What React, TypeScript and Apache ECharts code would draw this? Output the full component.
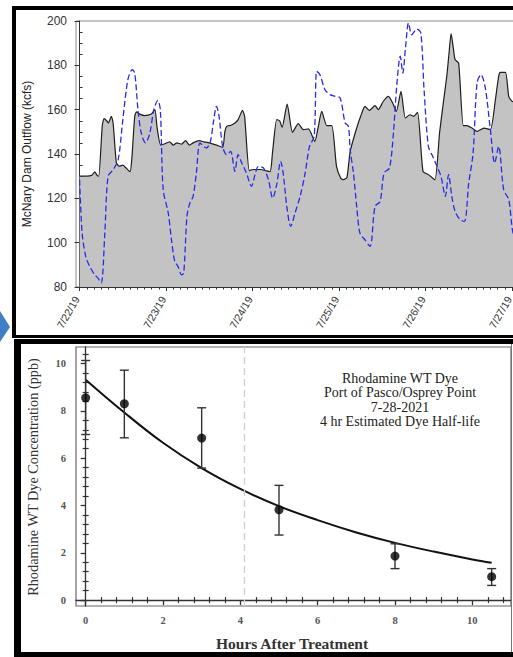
import React, { useEffect, useRef } from "react";
import * as echarts from "echarts";

// ---------- Top chart: McNary Dam outflow (hours since 7/22/19 00:00) ----------
const outflowHours = [0, 2, 3.5, 4.2, 4.8, 5.3, 6.3, 6.8, 7.5, 8, 8.8, 9.3, 10.2, 11, 12, 13, 14, 14.5, 15.3, 15.8, 16.7, 18, 19.9, 20.9, 21.5, 22.5, 23.5, 25, 26, 27, 28.3, 29.4, 30.5, 31.5, 33.2, 34.5, 36, 38, 39.7, 40.3, 40.8, 42, 43.1, 44, 45.2, 45.8, 47.1, 48.2, 50, 52.8, 53.5, 54.7, 55.5, 56.2, 57.6, 59.1, 60.7, 62.1, 63.5, 65.3, 66.2, 67.2, 68.6, 70, 71.3, 72.5, 73.2, 74.2, 75.1, 76.9, 78, 79.2, 80.4, 82, 82.9, 84.3, 85.7, 86.9, 87.9, 89.2, 90.4, 91.7, 92.7, 93.8, 95.3, 96.8, 98.6, 99.9, 101, 101.9, 102.5, 103.1, 103.7, 104.2, 105.2, 106.5, 107.5, 108.9, 110.3, 112.2, 114, 115.4, 116.3, 116.8, 118.2, 119.1, 120, 122, 125];
const outflowKcfs = [130, 130, 130.5, 132, 130.5, 130, 153, 156, 155, 154, 157, 154, 136, 134.5, 135, 133.5, 132, 138, 157, 159, 158, 157.3, 158, 160, 152, 144, 144.5, 145.5, 144, 145, 144.5, 146, 144, 145, 146, 145.5, 145, 144, 143, 150, 152.5, 153, 154, 155.5, 159.7, 157, 132.5, 133, 133, 132, 140, 155.5, 155, 152, 162.5, 149.8, 153.7, 151, 151.3, 145.7, 152, 159.2, 152.8, 152.8, 134.4, 129, 128.4, 129.5, 141.2, 151.7, 157, 161.5, 159.7, 161.8, 160, 163.8, 166, 163, 159.2, 168.3, 156.2, 157.7, 157, 158.8, 132.2, 130.7, 128.4, 149.5, 163.8, 175, 185, 194.3, 188, 182.6, 181, 152.8, 152.8, 151.7, 150.2, 151.7, 151, 164.5, 175, 176.8, 176.8, 166, 163.8, 163, 162];

const dashedHours = [0, 0.7, 1.7, 2.8, 4.2, 5.1, 6, 7, 7.9, 9.3, 10.7, 12, 13.4, 14.6, 15.3, 16.2, 17.1, 18.3, 19.5, 20.6, 21.7, 22.4, 23.2, 24.6, 25.5, 26.4, 27.3, 28.3, 28.9, 29.8, 30.6, 31.5, 32.4, 33.4, 34.5, 35.2, 36.3, 37.1, 38, 38.7, 39.7, 40.8, 41.9, 43.1, 44, 45, 46.3, 47.7, 48.7, 49.6, 51, 52.4, 53.6, 54.7, 55.8, 56.5, 57.5, 58.6, 59.8, 61.2, 62.6, 63.8, 65.1, 65.8, 66.7, 68.1, 69.5, 70.9, 72.3, 73.7, 74.6, 75.1, 76, 76.9, 77.8, 79.2, 80.6, 82, 83.4, 84.5, 86, 87.1, 88, 89, 89.7, 90.4, 91.3, 92.2, 93.6, 94.7, 95.6, 96.8, 98, 99.2, 100.3, 101.5, 102.4, 103.3, 104.2, 105.6, 106.8, 108, 109.2, 110.3, 111.4, 112.6, 114, 115.2, 116.3, 117.7, 119.1, 120.3, 122, 125];
const dashedKcfs = [128.4, 104.3, 93.8, 89.3, 85.5, 84, 81.8, 104.3, 129.9, 132.9, 137.4, 155.5, 173.5, 178, 176.5, 160, 149.5, 145, 149.5, 160, 164.2, 160, 123.9, 113.4, 101.3, 91.6, 89.3, 85.5, 86.3, 111.9, 117.9, 120.9, 131.4, 145, 143.4, 142.7, 145.7, 154, 161.5, 157, 143.4, 139.7, 141.2, 132.2, 139.7, 135.9, 131.4, 125.4, 130.7, 134.4, 133.7, 128.4, 120.1, 126.2, 136.7, 131.4, 116.4, 107.4, 113.4, 120.9, 131.4, 143.4, 148, 177.3, 175.8, 169, 166.8, 166, 165.3, 154, 152.5, 141.9, 131.4, 116.4, 104.3, 101.3, 98.3, 116.4, 118.6, 131.4, 133.7, 149.5, 170.5, 184.1, 176.5, 187.1, 199.1, 193.8, 196.4, 194.6, 169, 143.4, 138.9, 134.4, 129.9, 120.9, 130.7, 120.9, 114.1, 110.4, 109.6, 126.9, 140.4, 172, 175.8, 169.8, 151, 135.9, 143.4, 123.9, 119.4, 104.3, 98, 95];

const dateTickHours = [0, 24, 48, 72, 96, 120];
const dateTickLabels = ["7/22/19", "7/23/19", "7/24/19", "7/25/19", "7/26/19", "7/27/19"];
const outflowTitle = "McNary Dam Outflow (kcfs)";

// ---------- Bottom chart: Rhodamine WT dye ----------
const sampleHours = [0, 1, 3, 5, 8, 10.5];
const dyeMean = [8.55, 8.3, 6.85, 3.82, 1.86, 0.99];
const dyeLow = [7.0, 6.86, 5.58, 2.75, 1.33, 0.62];
const dyeHigh = [10.13, 9.72, 8.13, 4.85, 2.38, 1.33];
const fitHours = [0, 1, 2, 3, 4, 5, 6, 7, 8, 9, 10, 10.5];
const fitPpb = [9.32, 7.93, 6.65, 5.58, 4.7, 3.97, 3.38, 2.86, 2.42, 2.05, 1.72, 1.58];
const halfLifeHour = 4.1;
const hourTicks = [0, 2, 4, 6, 8, 10];
const ppbTicks = [0, 2, 4, 6, 8, 10];
const annotationLines = ["Rhodamine WT Dye", "Port of Pasco/Osprey Point", "7-28-2021", "4 hr Estimated Dye Half-life"];
const dyeYTitle = "Rhodamine WT Dye Concentration (ppb)";
const dyeXTitle = "Hours After Treatment";

const SANS = "'Liberation Sans', Arial, sans-serif";
const SERIF = "'Liberation Serif', 'Times New Roman', serif";

function range(start: number, end: number, step: number, skipEvery?: number) {
  const out: number[] = [];
  for (let i = 0; start + i * step <= end + 1e-9; i++) {
    const v = Math.round((start + i * step) * 1000) / 1000;
    if (skipEvery && Math.abs(v / skipEvery - Math.round(v / skipEvery)) < 1e-6) continue;
    out.push(v);
  }
  return out;
}

export default function App() {
  const ref = useRef<HTMLDivElement>(null);

  useEffect(() => {
    if (!ref.current) return;
    const chart = echarts.init(ref.current, undefined, { renderer: "svg" });

    const hourMinor = range(2, 124, 2, 24);
    const kcfsMinor = range(85, 195, 5, 20);
    const xMinor = range(0.4, 10.8, 0.4, 2);
    const yMinor = range(0.4, 10.4, 0.4, 2);

    const noLine = { show: false };
    const noLabel = { show: false };
    const noSplit = { show: false };

    const option: any = {
      animation: false,
      backgroundColor: "#ffffff",
      grid: [
        { left: 76, top: 21, width: 454, height: 266, show: true, borderColor: "#8a8a8a", borderWidth: 1 },
        { left: 76, top: 347, width: 435, height: 259, show: true, borderColor: "#666", borderWidth: 1.2 },
      ],
      xAxis: [
        {
          type: "value", gridIndex: 0, min: -1, max: 125, position: "bottom",
          axisLine: { show: true, lineStyle: { color: "#333", width: 1 } },
          axisTick: { show: true, customValues: dateTickHours, length: 4, lineStyle: { color: "#333" } },
          axisLabel: {
            customValues: dateTickHours,
            formatter: (v: number) => dateTickLabels[dateTickHours.indexOf(Math.round(v))] ?? "",
            rotate: 60, fontSize: 10.5, color: "#333", fontFamily: SANS, margin: 6, padding: [0, 5, 0, 0],
          },
          splitLine: noSplit,
        },
        {
          type: "value", gridIndex: 0, min: -1, max: 125, position: "bottom",
          axisLine: noLine, axisLabel: noLabel, splitLine: noSplit,
          axisTick: { show: true, customValues: hourMinor, length: 2.5, lineStyle: { color: "#333" } },
        },
        {
          type: "value", gridIndex: 1, min: -0.25, max: 11, position: "bottom",
          axisLine: { show: true, lineStyle: { color: "#333", width: 1.3 } },
          axisTick: { show: true, customValues: hourTicks, length: 5, lineStyle: { color: "#333", width: 1.3 } },
          axisLabel: { customValues: hourTicks, fontSize: 10.5, fontWeight: "bold", color: "#555", fontFamily: SERIF, margin: 9 },
          splitLine: noSplit,
        },
        {
          type: "value", gridIndex: 1, min: -0.25, max: 11, position: "bottom",
          axisLine: noLine, axisLabel: noLabel, splitLine: noSplit,
          axisTick: { show: true, customValues: xMinor, length: 3, lineStyle: { color: "#333", width: 1.2 } },
        },
        {
          type: "value", gridIndex: 1, min: -0.25, max: 11, position: "bottom",
          axisLine: noLine, axisLabel: noLabel, splitLine: noSplit,
          axisTick: { show: true, inside: true, customValues: xMinor, length: 3, lineStyle: { color: "#333", width: 1.2 } },
        },
      ],
      yAxis: [
        {
          type: "value", gridIndex: 0, min: 80, max: 200, interval: 20, position: "left",
          axisLine: { show: true, lineStyle: { color: "#333", width: 1 } },
          axisTick: { show: true, length: 5, lineStyle: { color: "#333" } },
          axisLabel: { fontSize: 12, color: "#333", fontFamily: SANS, margin: 9 },
          splitLine: noSplit,
        },
        {
          type: "value", gridIndex: 0, min: 80, max: 200, position: "left",
          axisLine: noLine, axisLabel: noLabel, splitLine: noSplit,
          axisTick: { show: true, inside: true, customValues: kcfsMinor, length: 3, lineStyle: { color: "#333" } },
        },
        {
          type: "value", gridIndex: 1, min: -0.25, max: 10.7, position: "left",
          axisLine: { show: true, lineStyle: { color: "#333", width: 1.3 } },
          axisTick: { show: true, customValues: ppbTicks, length: 5, lineStyle: { color: "#333", width: 1.3 } },
          axisLabel: { customValues: ppbTicks, fontSize: 10.5, fontWeight: "bold", color: "#555", fontFamily: SERIF, margin: 10 },
          splitLine: noSplit,
        },
        {
          type: "value", gridIndex: 1, min: -0.25, max: 10.7, position: "left",
          axisLine: noLine, axisLabel: noLabel, splitLine: noSplit,
          axisTick: { show: true, customValues: yMinor, length: 3, lineStyle: { color: "#333", width: 1.2 } },
        },
        {
          type: "value", gridIndex: 1, min: -0.25, max: 10.7, position: "left",
          axisLine: noLine, axisLabel: noLabel, splitLine: noSplit,
          axisTick: { show: true, inside: true, customValues: yMinor, length: 3, lineStyle: { color: "#333", width: 1.2 } },
        },
      ],
      series: [
        {
          name: "McNary outflow", type: "line", xAxisIndex: 0, yAxisIndex: 0,
          data: outflowHours.map((h, i) => [h, outflowKcfs[i]]),
          showSymbol: false, smooth: 0.2,
          lineStyle: { color: "#1e1e1e", width: 1.2 },
          areaStyle: { color: "#c3c3c3", opacity: 1 },
          z: 2,
        },
        {
          name: "comparison", type: "line", xAxisIndex: 0, yAxisIndex: 0,
          data: dashedHours.map((h, i) => [h, dashedKcfs[i]]),
          showSymbol: false, smooth: 0.3,
          lineStyle: { color: "#2a2aee", width: 1.3, type: [6, 3] },
          z: 3,
        },
        {
          name: "fit", type: "line", xAxisIndex: 2, yAxisIndex: 2,
          data: fitHours.map((h, i) => [h, fitPpb[i]]),
          showSymbol: false, smooth: 0.4,
          lineStyle: { color: "#111", width: 2 },
          markLine: {
            silent: true, symbol: ["none", "none"], label: { show: false },
            lineStyle: { color: "#cfcfcf", type: [7, 4], width: 1.3 },
            data: [{ xAxis: halfLifeHour }],
          },
          z: 3,
        },
        {
          name: "error", type: "custom", xAxisIndex: 2, yAxisIndex: 2,
          data: sampleHours.map((h, i) => [h, dyeLow[i], dyeHigh[i]]),
          encode: { x: 0, y: [1, 2] },
          renderItem: (_params: any, api: any) => {
            const x = api.value(0);
            const lo = api.coord([x, api.value(1)]);
            const hi = api.coord([x, api.value(2)]);
            const w = 4.5;
            const st = { stroke: "#333", lineWidth: 1.4 };
            return {
              type: "group",
              children: [
                { type: "line", shape: { x1: lo[0], y1: lo[1], x2: hi[0], y2: hi[1] }, style: st },
                { type: "line", shape: { x1: lo[0] - w, y1: lo[1], x2: lo[0] + w, y2: lo[1] }, style: st },
                { type: "line", shape: { x1: hi[0] - w, y1: hi[1], x2: hi[0] + w, y2: hi[1] }, style: st },
              ],
            };
          },
          z: 4,
        },
        {
          name: "dye", type: "scatter", xAxisIndex: 2, yAxisIndex: 2,
          data: sampleHours.map((h, i) => [h, dyeMean[i]]),
          symbolSize: 9, itemStyle: { color: "#000" },
          z: 5,
        },
      ],
      graphic: [
        { type: "polygon", shape: { points: [[0, 311], [10, 327], [0, 342]] }, style: { fill: "#3f7fc6" }, z: 10 },
        { type: "rect", shape: { x: 12, y: 6, width: 700, height: 4 }, style: { fill: "#000" }, z: 10 },
        { type: "rect", shape: { x: 12, y: 6, width: 4, height: 332 }, style: { fill: "#000" }, z: 10 },
        { type: "rect", shape: { x: 12, y: 335, width: 700, height: 3 }, style: { fill: "#000" }, z: 10 },
        { type: "rect", shape: { x: 14, y: 339, width: 700, height: 5 }, style: { fill: "#000" }, z: 10 },
        { type: "rect", shape: { x: 14, y: 339, width: 7, height: 318 }, style: { fill: "#000" }, z: 10 },
        { type: "rect", shape: { x: 14, y: 652, width: 700, height: 5 }, style: { fill: "#000" }, z: 10 },
        { type: "line", shape: { x1: 511.5, y1: 344, x2: 511.5, y2: 652 }, style: { stroke: "#777", lineWidth: 1 }, z: 10 },
        {
          type: "text", x: 27, y: 154, rotation: Math.PI / 2,
          style: { text: outflowTitle, fontSize: 12, fontFamily: SANS, fill: "#222", align: "center", verticalAlign: "middle" },
          z: 10,
        },
        {
          type: "text", x: 33, y: 477, rotation: Math.PI / 2,
          style: { text: dyeYTitle, fontSize: 14.3, fontFamily: SERIF, fill: "#333", align: "center", verticalAlign: "middle" },
          z: 10,
        },
        {
          type: "text", x: 292, y: 643,
          style: { text: dyeXTitle, fontSize: 15.5, fontWeight: "bold", fontFamily: SERIF, fill: "#333", align: "center", verticalAlign: "middle" },
          z: 10,
        },
        {
          type: "text", x: 400, y: 371,
          style: {
            text: annotationLines.join("\n"), fontSize: 14, lineHeight: 14.5, fontFamily: SERIF,
            fill: "#222", align: "center", verticalAlign: "top",
          },
          z: 10,
        },
      ],
    };

    chart.setOption(option);
    return () => chart.dispose();
  }, []);

  return (
    <div style={{ position: "fixed", left: 0, top: 0, width: 513, height: 657, overflow: "hidden", background: "#fff" }}>
      <div ref={ref} style={{ width: 600, height: 657 }} />
    </div>
  );
}
